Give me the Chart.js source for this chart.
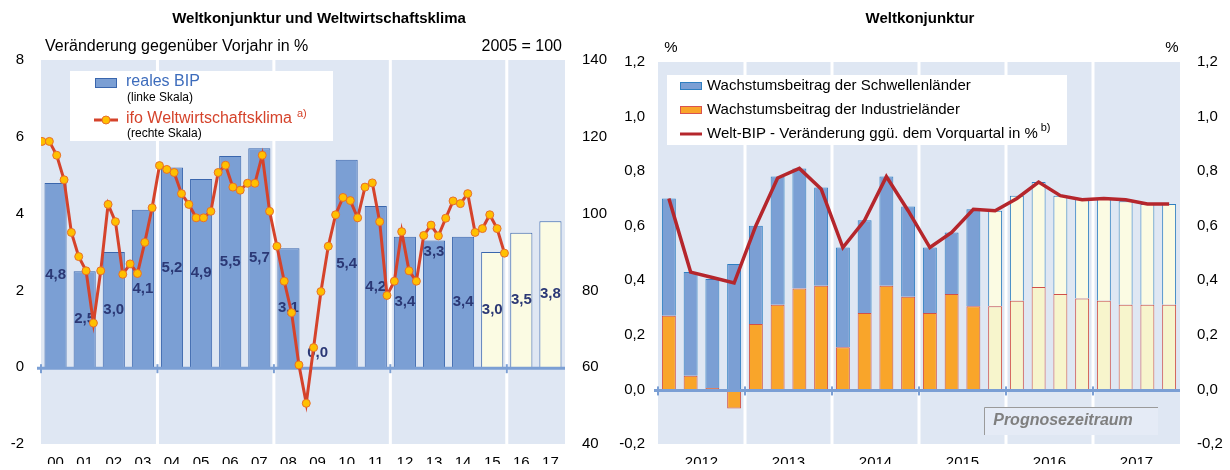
<!DOCTYPE html>
<html>
<head>
<meta charset="utf-8">
<script src="https://cdn.jsdelivr.net/npm/chart.js@4.4.1/dist/chart.umd.min.js"></script>
<style>
  body { margin: 0; background: #fff; }
  #wrap { position: relative; width: 1230px; height: 470px; }
  canvas { position: absolute; top: 0; }
</style>
</head>
<body>
<div id="wrap">
  <canvas id="leftChart" width="615" height="470" style="left:0"></canvas>
  <canvas id="rightChart" width="615" height="470" style="left:615px"></canvas>
</div>
<script>
// ---- Daten links: reales BIP (Jahre) und ifo Weltwirtschaftsklima (Quartale) ----
const years = ['00', '01', '02', '03', '04', '05', '06', '07', '08', '09', '10', '11', '12', '13', '14', '15', '16', '17'];
const realGdp = [4.8, 2.5, 3.0, 4.1, 5.2, 4.9, 5.5, 5.7, 3.1, 0.0, 5.4, 4.2, 3.4, 3.3, 3.4, 3.0, 3.5, 3.8];
const gdpForecastFrom = '15';
const labelNearTop = ['13'];
// ifo Weltwirtschaftsklima, 2000 Q1 bis 2015 Q4 (2005 = 100)
const ifoClimate = [
  118.8, 118.8, 115.2, 108.8,
  95.1, 88.8, 85.1, 71.5,
  85.1, 102.4, 97.9, 84.2,
  86.9, 84.4, 92.5, 101.5,
  112.5, 111.5, 110.7, 105.2,
  102.4, 98.9, 98.9, 100.6,
  110.7, 112.6, 106.9, 106.1,
  107.9, 107.9, 115.2, 100.6,
  91.5, 82.4, 74.2, 60.6,
  50.6, 65.1, 79.7, 91.5,
  99.7, 104.2, 103.4, 98.9,
  106.9, 108.0, 97.9, 78.7,
  82.4, 95.3, 85.1, 82.4,
  94.3, 97.0, 94.2, 98.8,
  103.3, 102.6, 105.2, 95.1,
  96.1, 99.7, 96.1, 89.7
];

// ---- Daten rechts: Wachstumsbeiträge je Quartal 2012-2017 ----
const quarterYears = ['2012', '2013', '2014', '2015', '2016', '2017'];
const quarters = quarterYears.flatMap(y => ['Q1', 'Q2', 'Q3', 'Q4'].map(q => y + ' ' + q));
const forecastFromQuarter = '2015 Q4';
const emergingContribution = [
  0.43, 0.38, 0.40, 0.46,
  0.36, 0.47, 0.44, 0.36,
  0.365, 0.34, 0.40, 0.33,
  0.24, 0.225, 0.355, 0.35,
  0.385, 0.385, 0.36, 0.367,
  0.375, 0.38, 0.37, 0.37
];
const industrialContribution = [
  0.27, 0.05, 0.005, -0.07,
  0.24, 0.31, 0.37, 0.38,
  0.155, 0.28, 0.38, 0.34,
  0.28, 0.35, 0.305, 0.305,
  0.325, 0.375, 0.35, 0.333,
  0.325, 0.31, 0.31, 0.31
];
const worldGdpQoq = [
  0.70, 0.43, 0.41, 0.39,
  0.60, 0.775, 0.81, 0.735,
  0.52, 0.62, 0.78, 0.655,
  0.52, 0.575, 0.66, 0.655,
  0.70, 0.76, 0.71, 0.695,
  0.70, 0.695, 0.68, 0.68
];

const FONT = '"Liberation Sans", Arial, sans-serif';
const bgBlue = '#dfe7f3';
const barBlue = '#7b9fd4';
const forecastYellow = '#fbfbe3';

const deComma = v => (Math.round(v * 10) / 10).toFixed(1).replace('.', ',').replace('-0,0', '0,0');

function text(ctx, str, x, y, font, color, align) {
  ctx.font = font;
  ctx.fillStyle = color;
  ctx.textAlign = align || 'left';
  ctx.textBaseline = 'middle';
  ctx.fillText(str, x, y);
  return ctx.measureText(str).width;
}

// hellblauer Hintergrund mit weißen Trennlinien alle 4 Kategorien
function panelBackground(count) {
  return {
    id: 'panelBackground',
    beforeDraw(chart) {
      const { ctx, chartArea: a } = chart;
      const n = chart.data.labels.length;
      const step = (a.right - a.left) / n;
      ctx.save();
      ctx.fillStyle = bgBlue;
      ctx.fillRect(a.left, a.top, a.right - a.left, a.bottom - a.top);
      ctx.fillStyle = '#fff';
      for (let i = count; i < n; i += count) {
        ctx.fillRect(a.left + i * step - 1.5, a.top, 3, a.bottom - a.top);
      }
      ctx.restore();
    }
  };
}

function drawZeroLine(chart, count) {
  const { ctx, chartArea: a } = chart;
  const y0 = chart.scales.y.getPixelForValue(0) + 1;
  const n = chart.data.labels.length;
  const step = (a.right - a.left) / n;
  ctx.save();
  ctx.strokeStyle = barBlue;
  ctx.lineWidth = 3;
  ctx.beginPath();
  ctx.moveTo(a.left - 4, y0);
  ctx.lineTo(a.right, y0);
  ctx.stroke();
  ctx.fillStyle = barBlue;
  for (let i = 0; i < n; i += count) {
    ctx.fillRect(a.left + i * step - 1, y0 - 4, 2, 9);
  }
  ctx.restore();
}

// ================= linkes Diagramm =================
const leftDecor = {
  id: 'leftDecor',
  afterDatasetDraw(chart, args) {
    if (args.index !== 1) return;
    drawZeroLine(chart, 4);
    const ctx = chart.ctx;
    ctx.save();
    args.meta.data.forEach((bar, i) => {
      const v = realGdp[i];
      let y = (bar.y + bar.base) / 2;
      if (v === 0) y = bar.base - 14;
      else if (labelNearTop.includes(years[i])) y = bar.y + 11;
      text(ctx, deComma(v), bar.x, y, 'bold 15px ' + FONT, '#2b3875', 'center');
    });
    ctx.restore();
  },
  afterDraw(chart) {
    const ctx = chart.ctx;
    ctx.save();
    text(ctx, 'Weltkonjunktur und Weltwirtschaftsklima', 319, 19, 'bold 15px ' + FONT, '#000', 'center');
    text(ctx, 'Veränderung gegenüber Vorjahr in %', 45, 47, '16px ' + FONT, '#000');
    text(ctx, '2005 = 100', 562, 47, '16px ' + FONT, '#000', 'right');

    // Legende
    ctx.fillStyle = '#fff';
    ctx.fillRect(70, 71, 263, 70);
    ctx.fillStyle = barBlue;
    ctx.fillRect(95, 78, 22, 10);
    ctx.strokeStyle = '#3a66ad';
    ctx.lineWidth = 1;
    ctx.strokeRect(95.5, 78.5, 21, 9);
    text(ctx, 'reales BIP', 126, 82, '16px ' + FONT, '#3d6cbc');
    text(ctx, '(linke Skala)', 127, 98, '12px ' + FONT, '#000');
    ctx.strokeStyle = '#d5432b';
    ctx.lineWidth = 3;
    ctx.beginPath();
    ctx.moveTo(94, 120);
    ctx.lineTo(118, 120);
    ctx.stroke();
    ctx.beginPath();
    ctx.arc(106, 120, 4, 0, Math.PI * 2);
    ctx.fillStyle = '#ffc000';
    ctx.fill();
    ctx.strokeStyle = '#e8702a';
    ctx.lineWidth = 1;
    ctx.stroke();
    const w = text(ctx, 'ifo Weltwirtschaftsklima', 126, 119, '16px ' + FONT, '#d5432b');
    text(ctx, 'a)', 126 + w + 5, 114, '11px ' + FONT, '#d5432b');
    text(ctx, '(rechte Skala)', 127, 134, '12px ' + FONT, '#000');
    ctx.restore();
  }
};

const forecastIdx = years.indexOf(gdpForecastFrom);

new Chart(document.getElementById('leftChart').getContext('2d'), {
  data: {
    labels: years,
    datasets: [{
      type: 'line',
      label: 'ifo Weltwirtschaftsklima',
      data: ifoClimate.map((v, k) => ({ x: k, y: v })),
      xAxisID: 'x2',
      yAxisID: 'y2',
      borderColor: '#d5432b',
      borderWidth: 3,
      pointRadius: 4,
      pointBackgroundColor: '#ffc000',
      pointBorderColor: '#e8702a',
      pointBorderWidth: 1,
      tension: 0,
      order: 0
    }, {
      type: 'bar',
      label: 'reales BIP',
      data: realGdp,
      xAxisID: 'x',
      yAxisID: 'y',
      grouped: false,
      backgroundColor: realGdp.map((v, i) => i >= forecastIdx ? forecastYellow : barBlue),
      borderColor: '#3a66ad',
      borderWidth: 1,
      barPercentage: 0.76,
      categoryPercentage: 1,
      order: 1
    }]
  },
  options: {
    responsive: false,
    animation: false,
    layout: { padding: { top: 60 } },
    plugins: {
      legend: { display: false },
      tooltip: { enabled: false },
      title: { display: false }
    },
    scales: {
      x: {
        type: 'category',
        offset: true,
        grid: { display: false, drawTicks: false },
        border: { display: false },
        ticks: { font: { size: 15, family: FONT }, color: '#000', padding: 10, maxRotation: 0, autoSkip: false },
        afterFit: s => { s.height = 20; }
      },
      x2: {
        type: 'linear',
        display: false,
        offset: false,
        min: -0.14,
        max: 71.25
      },
      y: {
        position: 'left',
        min: -2,
        max: 8,
        ticks: { stepSize: 2, font: { size: 15, family: FONT }, color: '#000', padding: 17 },
        grid: { display: false, drawTicks: false },
        border: { display: false },
        afterFit: s => { s.width = 41; }
      },
      y2: {
        position: 'right',
        min: 40,
        max: 140,
        ticks: { stepSize: 20, font: { size: 15, family: FONT }, color: '#000', padding: 17 },
        grid: { display: false, drawTicks: false },
        border: { display: false },
        afterFit: s => { s.width = 50; }
      }
    }
  },
  plugins: [panelBackground(4), leftDecor]
});

// ================= rechtes Diagramm =================
const rightDecor = {
  id: 'rightDecor',
  afterDatasetDraw(chart, args) {
    if (args.index === 1) drawZeroLine(chart, 4);
  },
  afterDraw(chart) {
    const ctx = chart.ctx;
    ctx.save();
    text(ctx, 'Weltkonjunktur', 305, 19, 'bold 15px ' + FONT, '#000', 'center');
    text(ctx, '%', 56, 48, '15px ' + FONT, '#000', 'center');
    text(ctx, '%', 557, 48, '15px ' + FONT, '#000', 'center');

    // Legende
    ctx.fillStyle = '#fff';
    ctx.fillRect(52, 75, 400, 70);
    ctx.lineWidth = 1;
    ctx.fillStyle = barBlue;
    ctx.fillRect(65, 82, 22, 8);
    ctx.strokeStyle = '#2f7fc1';
    ctx.strokeRect(65.5, 82.5, 21, 7);
    text(ctx, 'Wachstumsbeitrag der Schwellenländer', 92, 86, '15px ' + FONT, '#000');
    ctx.fillStyle = '#f9a52a';
    ctx.fillRect(65, 106, 22, 8);
    ctx.strokeStyle = '#d9534f';
    ctx.strokeRect(65.5, 106.5, 21, 7);
    text(ctx, 'Wachstumsbeitrag der Industrieländer', 92, 110, '15px ' + FONT, '#000');
    ctx.strokeStyle = '#b5262c';
    ctx.lineWidth = 3;
    ctx.beginPath();
    ctx.moveTo(65, 134);
    ctx.lineTo(87, 134);
    ctx.stroke();
    const w = text(ctx, 'Welt-BIP - Veränderung ggü. dem Vorquartal in %', 92, 134, '15px ' + FONT, '#000');
    text(ctx, 'b)', 92 + w + 3, 128, '11px ' + FONT, '#000');

    // Prognosezeitraum
    ctx.fillStyle = '#e5ebf6';
    ctx.fillRect(369, 407, 174, 28);
    ctx.strokeStyle = '#9a9a9a';
    ctx.lineWidth = 1;
    ctx.beginPath();
    ctx.moveTo(369.5, 435);
    ctx.lineTo(369.5, 407.5);
    ctx.lineTo(543, 407.5);
    ctx.stroke();
    text(ctx, 'Prognosezeitraum', 448, 421, 'italic bold 16px ' + FONT, '#7f7f7f', 'center');
    ctx.restore();
  }
};

const fcIdx = quarters.indexOf(forecastFromQuarter);

new Chart(document.getElementById('rightChart').getContext('2d'), {
  type: 'bar',
  data: {
    labels: quarters,
    datasets: [{
      type: 'line',
      label: 'Welt-BIP - Veränderung ggü. dem Vorquartal in %',
      data: worldGdpQoq,
      yAxisID: 'y2',
      borderColor: '#b5262c',
      borderWidth: 3.5,
      pointRadius: 0,
      tension: 0,
      order: 0
    }, {
      type: 'bar',
      label: 'Wachstumsbeitrag der Industrieländer',
      data: industrialContribution,
      yAxisID: 'y',
      backgroundColor: quarters.map((q, i) => i >= fcIdx ? '#f7f5cc' : '#f9a52a'),
      borderColor: '#d0504a',
      borderWidth: 1,
      barPercentage: 0.64,
      categoryPercentage: 1,
      order: 1
    }, {
      type: 'bar',
      label: 'Wachstumsbeitrag der Schwellenländer',
      data: emergingContribution,
      yAxisID: 'y',
      backgroundColor: quarters.map((q, i) => i >= fcIdx ? forecastYellow : barBlue),
      borderColor: '#2f7fc1',
      borderWidth: 1,
      barPercentage: 0.64,
      categoryPercentage: 1,
      order: 2
    }]
  },
  options: {
    responsive: false,
    animation: false,
    layout: { padding: { top: 62 } },
    plugins: {
      legend: { display: false },
      tooltip: { enabled: false },
      title: { display: false }
    },
    scales: {
      x: {
        type: 'category',
        display: false,
        stacked: true
      },
      xYear: {
        type: 'category',
        position: 'bottom',
        labels: quarterYears,
        offset: true,
        grid: { display: false, drawTicks: false },
        border: { display: false },
        ticks: { font: { size: 15, family: FONT }, color: '#000', padding: 10, maxRotation: 0, autoSkip: false },
        afterFit: s => { s.height = 20; }
      },
      y: {
        position: 'left',
        stacked: true,
        min: -0.2,
        max: 1.2,
        ticks: { stepSize: 0.2, font: { size: 15, family: FONT }, color: '#000', padding: 13, callback: v => deComma(v) },
        grid: { display: false, drawTicks: false },
        border: { display: false },
        afterFit: s => { s.width = 43; }
      },
      y2: {
        position: 'right',
        min: -0.2,
        max: 1.2,
        ticks: { stepSize: 0.2, font: { size: 15, family: FONT }, color: '#000', padding: 17, callback: v => deComma(v) },
        grid: { display: false, drawTicks: false },
        border: { display: false },
        afterFit: s => { s.width = 50; }
      }
    }
  },
  plugins: [panelBackground(4), rightDecor]
});
</script>
</body>
</html>
